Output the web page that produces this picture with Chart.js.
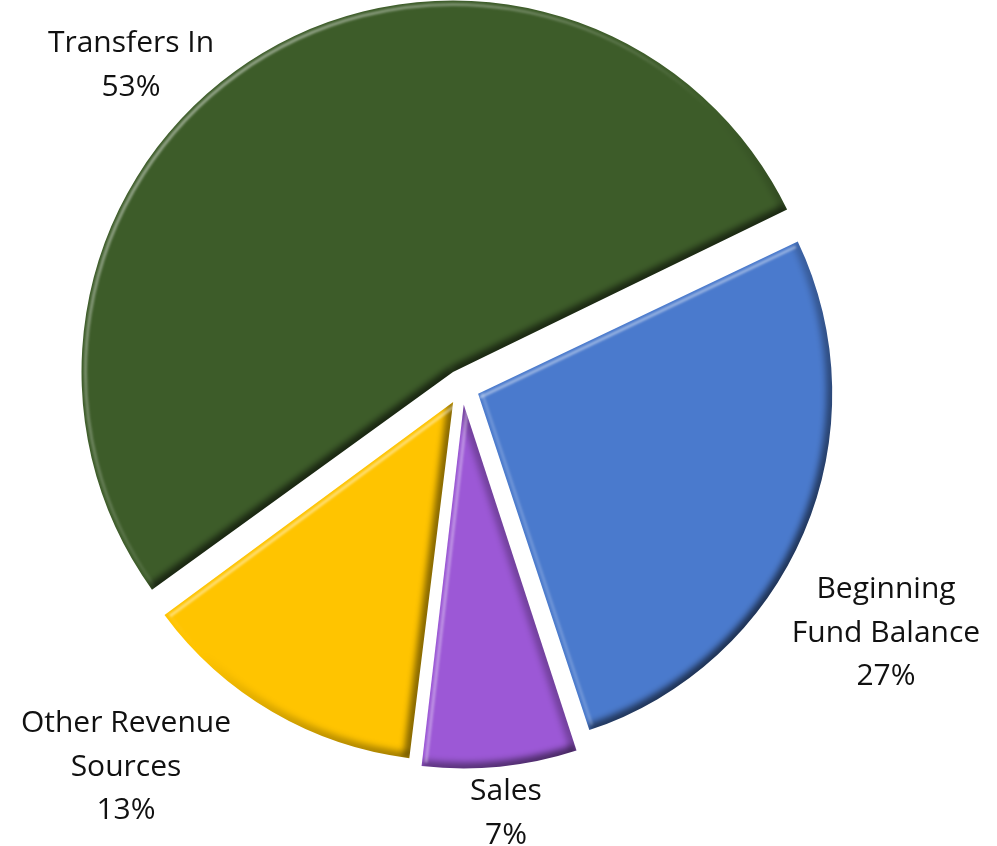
<!DOCTYPE html>
<html>
<head>
<meta charset="utf-8">
<script src="https://cdn.jsdelivr.net/npm/chart.js@4/dist/chart.umd.min.js"></script>
<style>
  html, body { margin: 0; padding: 0; background: #fff; }
  #wrap { width: 997px; height: 846px; }
</style>
</head>
<body>
<div id="wrap"><canvas id="pie"></canvas></div>
<script>
const categories = [['Beginning', 'Fund Balance'], ['Sales'], ['Other Revenue', 'Sources'], ['Transfers In']];
const shares = [27, 7, 13, 53];
const sliceColors = ['#4a7acd', '#9c58d6', '#ffc400', '#3d5c29'];

// where each data label sits: centre x and first baseline
const labelSpots = [
  { x: 886, y: 598 },
  { x: 506, y: 800 },
  { x: 126, y: 732 },
  { x: 131, y: 52 }
];

// bevelled look, light coming from the upper left:
// a thin bright line just inside the lit edges, a soft dark rim on the others
const bevel = {
  id: 'bevel',
  afterDatasetsDraw(chart) {
    const ctx = chart.ctx;
    const lx = -Math.SQRT1_2, ly = -Math.SQRT1_2;
    const facing = n => Math.cos(n) * lx + Math.sin(n) * ly;
    const inset = 4;
    const hiAlpha = d => 0.45 * Math.max(0, d);
    const loAlpha = d => 0.6 * Math.max(0, -d);

    chart.getDatasetMeta(0).data.forEach(arc => {
      const { x, y, startAngle, endAngle, outerRadius, circumference } =
        arc.getProps(['x', 'y', 'startAngle', 'endAngle', 'outerRadius', 'circumference'], true);
      // same geometry ArcElement uses for an offset slice
      const off = (arc.options.offset || 0) / 4;
      const mid = (startAngle + endAngle) / 2;
      const cx = x + Math.cos(mid) * off, cy = y + Math.sin(mid) * off;
      const radOff = off * (1 - Math.sin(Math.min(Math.PI, circumference)));
      const r = outerRadius + radOff;
      const alpha = endAngle - startAngle;
      const beta = Math.max(0.001, alpha * r - radOff / Math.PI) / r;
      const a0 = startAngle + (alpha - beta) / 2, a1 = beta + a0;

      // the rim: colour follows the angle, so use conic gradients
      const rimGradient = fn => {
        const g = ctx.createConicGradient(0, cx, cy);
        for (let k = 0; k <= 48; k++) {
          const t = k / 48;
          g.addColorStop(t, fn(t * Math.PI * 2));
        }
        return g;
      };

      ctx.save();
      ctx.globalCompositeOperation = 'source-atop';

      ctx.filter = 'blur(3px)';
      ctx.lineWidth = 12;
      ctx.strokeStyle = rimGradient(a => 'rgba(0,0,0,' + loAlpha(facing(a)).toFixed(3) + ')');
      ctx.beginPath();
      ctx.arc(cx, cy, r, a0, a1);
      ctx.stroke();

      ctx.filter = 'blur(1px)';
      ctx.lineWidth = 3;
      ctx.strokeStyle = rimGradient(a => 'rgba(255,255,255,' + hiAlpha(facing(a)).toFixed(3) + ')');
      ctx.beginPath();
      ctx.arc(cx, cy, r - inset, a0, a1);
      ctx.stroke();

      // the two straight sides
      [[a0, a0 - Math.PI / 2], [a1, a1 + Math.PI / 2]].forEach(([ang, n]) => {
        const d = facing(n);
        ctx.beginPath();
        if (d > 0) {
          const sx = -Math.cos(n) * inset, sy = -Math.sin(n) * inset;
          ctx.filter = 'blur(1px)';
          ctx.lineWidth = 3;
          ctx.strokeStyle = 'rgba(255,255,255,' + hiAlpha(d).toFixed(3) + ')';
          ctx.moveTo(cx + sx, cy + sy);
          ctx.lineTo(cx + Math.cos(ang) * (r - inset) + sx, cy + Math.sin(ang) * (r - inset) + sy);
        } else {
          ctx.filter = 'blur(3px)';
          ctx.lineWidth = 12;
          ctx.strokeStyle = 'rgba(0,0,0,' + loAlpha(d).toFixed(3) + ')';
          ctx.moveTo(cx, cy);
          ctx.lineTo(cx + Math.cos(ang) * r, cy + Math.sin(ang) * r);
        }
        ctx.stroke();
      });
      ctx.restore();
    });
  }
};

const sliceLabels = {
  id: 'sliceLabels',
  afterDraw(chart) {
    const ctx = chart.ctx;
    const total = shares.reduce((a, b) => a + b, 0);
    ctx.save();
    ctx.font = '30px "Open Sans"';
    ctx.fillStyle = '#111';
    ctx.textAlign = 'center';
    ctx.textBaseline = 'alphabetic';
    categories.forEach((lines, i) => {
      const rows = lines.concat(Math.round(shares[i] / total * 100) + '%');
      rows.forEach((txt, k) => ctx.fillText(txt, labelSpots[i].x, labelSpots[i].y + k * 43.5));
    });
    ctx.restore();
  }
};

new Chart(document.getElementById('pie'), {
  type: 'pie',
  data: {
    labels: categories,
    datasets: [{
      data: shares,
      backgroundColor: sliceColors,
      borderWidth: 0,
      offset: 70,
      hoverOffset: 0,
      radius: 354
    }]
  },
  options: {
    responsive: true,
    maintainAspectRatio: false,
    animation: false,
    events: [],
    rotation: 64.5,
    layout: { padding: { left: 82, right: 155, top: 7, bottom: 79 } },
    plugins: {
      legend: { display: false },
      tooltip: { enabled: false }
    }
  },
  plugins: [bevel, sliceLabels]
});
</script>
</body>
</html>
